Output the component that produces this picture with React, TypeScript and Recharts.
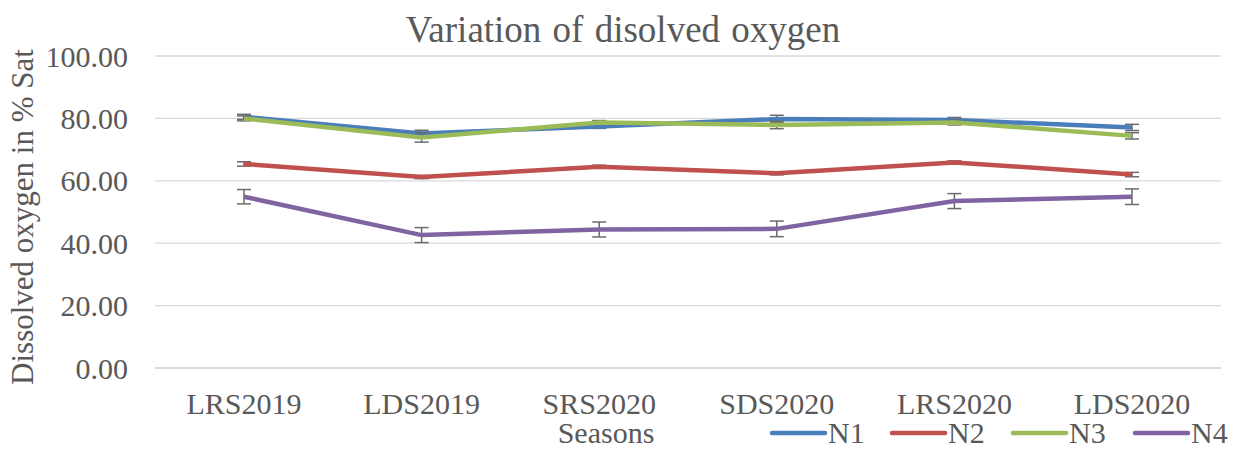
import React from 'react';
import { LineChart, Line, XAxis, YAxis, CartesianGrid, ErrorBar, Label } from 'recharts';

const seasons = ['LRS2019', 'LDS2019', 'SRS2020', 'SDS2020', 'LRS2020', 'LDS2020'];
const n1 = [80.5, 75.2, 77.4, 79.8, 79.5, 77.1];
const n2 = [65.4, 61.2, 64.5, 62.4, 65.9, 62.0];
const n3 = [80.0, 73.9, 78.7, 77.9, 78.7, 74.4];
const n4 = [54.9, 42.6, 44.4, 44.6, 53.5, 54.9];
const n1Err = [0.8, 1.0, 0.6, 1.2, 0.8, 1.0];
const n2Err = [0.7, 0.5, 0.5, 0.5, 0.5, 0.7];
const n3Err = [0.8, 1.5, 0.6, 1.2, 0.8, 1.0];
const n4Err = [2.3, 2.4, 2.4, 2.5, 2.4, 2.5];
const yTicks = [0, 20, 40, 60, 80, 100];

const seriesNames = ['N1', 'N2', 'N3', 'N4'];
const seriesColors = ['#4A7EBB', '#C0504D', '#9BBB59', '#8064A2'];
const seriesValues = [n1, n2, n3, n4];
const seriesErrors = [n1Err, n2Err, n3Err, n4Err];

const data = seasons.map((s, i) => {
  const row: Record<string, string | number> = { season: s };
  seriesNames.forEach((n, k) => {
    row[n] = seriesValues[k][i];
    row[n + 'e'] = seriesErrors[k][i];
  });
  return row;
});

const FONT = '"Liberation Serif", "Times New Roman", serif';
const TXT = '#595959';

const YLabel = () => (
  <text x={33} y={217} transform="rotate(-90 33 217)" textAnchor="middle" fontFamily={FONT} fontSize={31} fill={TXT}>
    Dissolved oxygen in % Sat
  </text>
);

const XLabel = () => (
  <text x={606} y={443} textAnchor="middle" fontFamily={FONT} fontSize={30} fill={TXT}>
    Seasons
  </text>
);

const legendStarts = [772, 892, 1013, 1135];

export default function App() {
  return (
    <div style={{ position: 'absolute', left: 0, top: 0, width: 1239, height: 450, background: '#fff' }}>
      <LineChart width={1239} height={450} data={data} margin={{ top: 56, right: 18, bottom: 0, left: 0 }}>
        <CartesianGrid horizontal vertical={false} stroke="#d9d9d9" strokeWidth={1.3} />
        <XAxis
          dataKey="season"
          height={82}
          padding={{ left: 89, right: 89 }}
          tickSize={0}
          tickLine={false}
          tickMargin={25}
          axisLine={{ stroke: '#d9d9d9', strokeWidth: 1.3 }}
          tick={{ fontFamily: FONT, fontSize: 30, fill: TXT }}
          interval={0}
        >
          <Label content={<XLabel />} />
        </XAxis>
        <YAxis
          width={155}
          domain={[0, 100]}
          ticks={yTicks}
          tickFormatter={(v: number) => v.toFixed(2)}
          tickSize={0}
          tickLine={false}
          tickMargin={27}
          axisLine={false}
          tick={{ fontFamily: FONT, fontSize: 30, fill: TXT }}
        >
          <Label content={<YLabel />} />
        </YAxis>
        {seriesNames.map((n, k) => (
          <Line
            key={n}
            dataKey={n}
            name={n}
            type="linear"
            stroke={seriesColors[k]}
            strokeWidth={4.5}
            dot={false}
            activeDot={false}
            isAnimationActive={false}
          >
            <ErrorBar dataKey={n + 'e'} direction="y" width={7} stroke="#6b6b6b" strokeWidth={1.5} />
          </Line>
        ))}
        <text x={623} y={42} textAnchor="middle" fontFamily={FONT} fontSize={37} fill={TXT} wordSpacing={2}>
          Variation of disolved oxygen
        </text>
        {seriesNames.map((n, k) => (
          <g key={'lg' + n}>
            <line x1={legendStarts[k]} x2={legendStarts[k] + 53} y1={433} y2={433} stroke={seriesColors[k]} strokeWidth={4.5} strokeLinecap="round" />
            <text x={legendStarts[k] + 56} y={443} fontFamily={FONT} fontSize={30} fill={TXT}>
              {n}
            </text>
          </g>
        ))}
      </LineChart>
    </div>
  );
}
